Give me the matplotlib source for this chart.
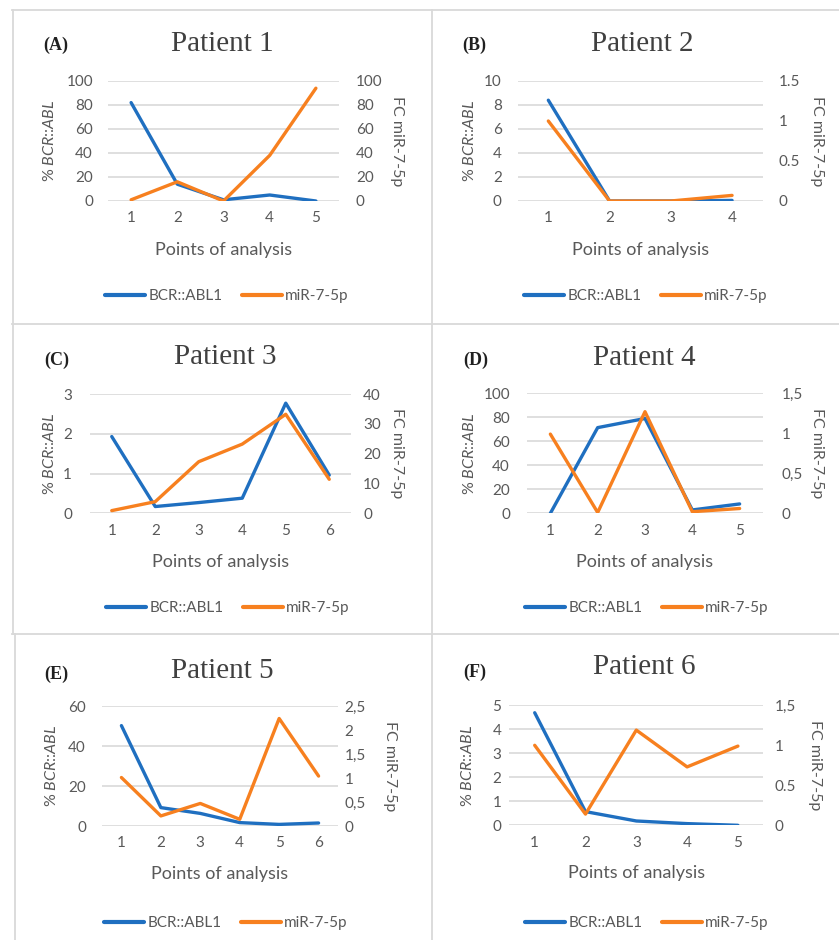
import matplotlib
matplotlib.use('Agg')
import matplotlib.pyplot as plt
from matplotlib.lines import Line2D

# ---------------- data ----------------
titles = ["Patient 1", "Patient 2", "Patient 3", "Patient 4", "Patient 5", "Patient 6"]
letters = ["(A)", "(B)", "(C)", "(D)", "(E)", "(F)"]

p1_bcr = [82, 14, 1, 5, 0]
p1_mir = [1, 16, 0, 38, 94]
p2_bcr = [8.4, 0, 0, 0.05]
p2_mir = [1.0, 0, 0, 0.07]
p3_bcr = [1.93, 0.17, 0.27, 0.38, 2.77, 0.96]
p3_mir = [0.9, 3.9, 17.3, 23.2, 33.2, 11.4]
p4_bcr = [0, 71.4, 79, 2.8, 7.8]
p4_mir = [0.99, 0.01, 1.27, 0.02, 0.06]
p5_bcr = [50.2, 9.2, 6.3, 1.7, 0.8, 1.5]
p5_mir = [1.01, 0.21, 0.47, 0.14, 2.24, 1.04]
p6_bcr = [4.69, 0.57, 0.18, 0.07, 0.0]
p6_mir = [1.0, 0.14, 1.19, 0.73, 0.99]

bcr_series = [p1_bcr, p2_bcr, p3_bcr, p4_bcr, p5_bcr, p6_bcr]
mir_series = [p1_mir, p2_mir, p3_mir, p4_mir, p5_mir, p6_mir]

left_ticks = [[0, 20, 40, 60, 80, 100], [0, 2, 4, 6, 8, 10], [0, 1, 2, 3],
              [0, 20, 40, 60, 80, 100], [0, 20, 40, 60], [0, 1, 2, 3, 4, 5]]
right_ticks = [[0, 20, 40, 60, 80, 100], [0, 0.5, 1, 1.5], [0, 10, 20, 30, 40],
               [0, 0.5, 1, 1.5], [0, 0.5, 1, 1.5, 2, 2.5], [0, 0.5, 1, 1.5]]
right_labels = [["0", "20", "40", "60", "80", "100"], ["0", "0.5", "1", "1.5"],
                ["0", "10", "20", "30", "40"], ["0", "0,5", "1", "1,5"],
                ["0", "0,5", "1", "1,5", "2", "2,5"], ["0", "0.5", "1", "1,5"]]

series_names = ["BCR::ABL1", "miR-7-5p"]
xlabel_text = "Points of analysis"
left_ylabel = "% $\\mathit{BCR}$::$\\mathit{ABL}$"
right_ylabel = "FC miR-7-5p"

# ---------------- layout (pixels) ----------------
W, H = 839, 940
boxes = [(108, 339, 81, 201), (517.7, 762.7, 81, 201),
         (90, 351, 394, 513.3), (526.7, 763.3, 393.3, 513.3),
         (101.7, 338.3, 706, 826), (509.3, 763.3, 705.3, 825.3)]
title_pos = [(222, 44), (642, 44), (225, 357), (644, 358), (222, 671), (644, 667)]
letter_pos = [(43, 45), (462, 45), (44, 360), (463, 360), (44, 674), (463, 672)]
lylab_x = [50, 470, 49, 470, 52, 468]
rylab_x = [397, 817, 397, 817, 390, 815]
lpad = [15, 16, 18, 16.7, 15.7, 8]
rpad = [17, 16, 12, 18, 6, 11]
legend_center = [(227, 296), (646, 296), (228, 608), (647, 608), (226, 923), (647, 923)]
xlab_dy = [49, 49, 49, 49, 48, 48]

BLUE = '#1f6fc0'
ORANGE = '#f7801f'
GRID = '#d9d9d9'
TXT = '#595959'

plt.rcParams['font.family'] = ['Lato', 'DejaVu Sans']
plt.rcParams['mathtext.fontset'] = 'custom'
plt.rcParams['mathtext.it'] = 'Lato:italic'
plt.rcParams['mathtext.rm'] = 'Lato'

fig = plt.figure(figsize=(W / 100, H / 100), dpi=100)

def fx(px):
    return px / W

def fy(py):
    return 1 - py / H

pt = 72 / 100  # points per pixel

for i in range(6):
    x0, x1, yt, yb = boxes[i]
    ax = fig.add_axes([fx(x0), fy(yb), (x1 - x0) / W, (yb - yt) / H])
    n = len(bcr_series[i])
    xs = list(range(1, n + 1))
    ax.set_xlim(0.5, n + 0.5)
    lt = left_ticks[i]
    ax.set_ylim(lt[0], lt[-1])
    ax.set_yticks(lt)
    ax.set_xticks(xs)
    ax.yaxis.grid(True, color=GRID, lw=1.2)
    ax.set_axisbelow(True)
    for s in ax.spines.values():
        s.set_visible(False)
    ax.tick_params(axis='y', length=0, pad=lpad[i] * pt, labelsize=11, labelcolor=TXT)
    ax.tick_params(axis='x', length=0, pad=7.5, labelsize=11, labelcolor=TXT)
    l1, = ax.plot(xs, bcr_series[i], color=BLUE, lw=2.4, solid_joinstyle='round',
                  solid_capstyle='round', label=series_names[0])

    ax2 = ax.twinx()
    rt = right_ticks[i]
    ax2.set_ylim(rt[0], rt[-1])
    ax2.set_yticks(rt)
    ax2.set_yticklabels(right_labels[i])
    for s in ax2.spines.values():
        s.set_visible(False)
    ax2.tick_params(axis='y', length=0, pad=rpad[i] * pt, labelsize=11, labelcolor=TXT)
    l2, = ax2.plot(xs, mir_series[i], color=ORANGE, lw=2.4, solid_joinstyle='round',
                   solid_capstyle='round', label=series_names[1])

    cy = (yt + yb) / 2
    fig.text(fx(lylab_x[i]), fy(cy), left_ylabel, rotation=90, ha='center', va='center',
             rotation_mode='anchor', fontsize=11.5, color=TXT)
    fig.text(fx(rylab_x[i]), fy(cy), right_ylabel, rotation=-90, ha='center', va='center',
             rotation_mode='anchor', fontsize=11.5, color=TXT)
    fig.text(fx((x0 + x1) / 2), fy(yb + xlab_dy[i]), xlabel_text, ha='center', va='center',
             fontsize=13, color=TXT)
    fig.text(fx(title_pos[i][0]), fy(title_pos[i][1]), titles[i], ha='center', va='center',
             fontsize=21, color='#404040', family=['Liberation Serif', 'DejaVu Serif'])
    fig.text(fx(letter_pos[i][0]), fy(letter_pos[i][1]), letters[i], ha='left', va='center',
             fontsize=13, fontweight='bold', color='#202020',
             family=['Liberation Serif', 'DejaVu Serif'])
    h1 = Line2D([], [], color=BLUE, lw=3, solid_capstyle='round')
    h2 = Line2D([], [], color=ORANGE, lw=3, solid_capstyle='round')
    lc = legend_center[i]
    fig.legend(handles=[h1, h2], labels=series_names, loc='center',
               bbox_to_anchor=(fx(lc[0]), fy(lc[1])),
               ncol=2, frameon=False, fontsize=11, handlelength=2.6, handletextpad=0.2,
               columnspacing=1.3, labelcolor=TXT, borderaxespad=0, borderpad=0)

def fline(xa, ya, xb, yb_):
    fig.add_artist(Line2D([fx(xa), fx(xb)], [fy(ya), fy(yb_)], color='#d9d9d9', lw=1.3))

fline(12, 10, 839, 10)
fline(12, 323.5, 839, 323.5)
fline(12, 634, 839, 634)
fline(12.5, 10, 12.5, 634)
fline(15, 634, 15, 940)
fline(432, 10, 432, 940)

fig.savefig('out.png', dpi=100)
